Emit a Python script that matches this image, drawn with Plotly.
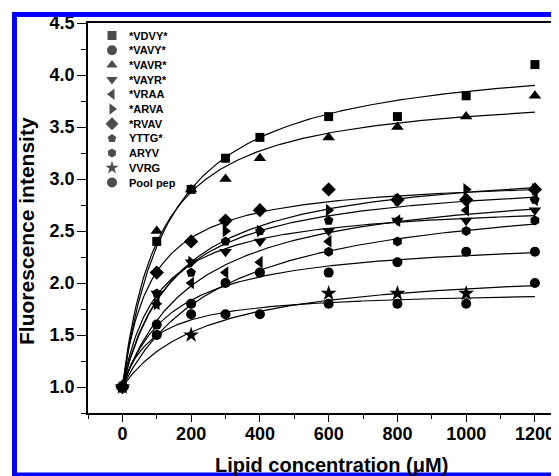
import numpy as np
import plotly.graph_objects as go

# ---------------- data ----------------
lipid_conc = [0, 100, 200, 300, 400, 600, 800, 1000, 1200]   # µM

series_names = ["*VDVY*", "*VAVY*", "*VAVR*", "*VAYR*", "*VRAA", "*ARVA",
                "*RVAV", "YTTG*", "ARYV", "VVRG", "Pool pep"]

VDVY = [1.0, 2.4, 2.9, 3.2, 3.4, 3.6, 3.6, 3.8, 4.1]
VAVY = [1.0, 1.6, 1.8, 2.0, 2.1, 2.1, 2.2, 2.3, 2.3]
VAVR = [1.0, 2.5, 2.9, 3.0, 3.2, 3.4, 3.5, 3.6, 3.8]
VAYR = [1.0, 1.9, 2.2, 2.3, 2.4, 2.5, 2.6, 2.6, 2.7]
VRAA = [1.0, 1.8, 2.0, 2.1, 2.2, 2.4, 2.6, 2.7, 2.8]
ARVA = [1.0, 1.8, 2.2, 2.5, 2.5, 2.7, 2.8, 2.9, 2.9]
RVAV = [1.0, 2.1, 2.4, 2.6, 2.7, 2.9, 2.8, 2.8, 2.9]
YTTG = [1.0, 1.9, 2.1, 2.4, 2.5, 2.6, 2.8, 2.8, 2.8]
ARYV = [1.0, 1.5, 1.8, 2.0, 2.1, 2.3, 2.4, 2.5, 2.6]
VVRG = [1.0, None, 1.5, None, None, 1.9, 1.9, 1.9, None]
POOL = [1.0, 1.5, 1.7, 1.7, 1.7, 1.8, 1.8, 1.8, 2.0]

series_values = [VDVY, VAVY, VAVR, VAYR, VRAA, ARVA, RVAV, YTTG, ARYV, VVRG, POOL]

x_tick_vals = [0, 200, 400, 600, 800, 1000, 1200]
y_tick_vals = [1.0, 1.5, 2.0, 2.5, 3.0, 3.5, 4.0, 4.5]

# ---------------- styles ----------------
symbols = ["square", "circle", "triangle-up", "triangle-down", "triangle-left",
           "triangle-right", "diamond", "pentagon", "hexagon", "star", "circle"]
sizes = [9, 10, 11, 11, 11, 11, 11, 10, 10, 12, 10]
FONT = "Liberation Sans, Arial, sans-serif"


def hyperbolic_fit(x, y):
    """One-site saturation fit y = y0 + B*x/(K+x) to the data (as in the original)."""
    x = np.asarray(x, float)
    y = np.array([np.nan if v is None else v for v in y], float)
    m = np.isfinite(y)
    x, y = x[m], y[m]
    y0 = y[x == 0][0]
    d = y - y0
    best = None
    for K in np.arange(5.0, 3000.0, 1.0):
        f = x / (K + x)
        B = np.dot(f, d) / np.dot(f, f)
        sse = np.sum((B * f - d) ** 2)
        if best is None or sse < best[0]:
            best = (sse, B, K)
    _, B, K = best
    xx = np.linspace(0, max(lipid_conc), 301)
    return xx, y0 + B * xx / (K + xx)


fig = go.Figure()

for name, vals, sym, sz in zip(series_names, series_values, symbols, sizes):
    fx, fy = hyperbolic_fit(lipid_conc, vals)
    fig.add_trace(go.Scatter(x=fx, y=fy, mode="lines",
                             line=dict(color="black", width=1.2),
                             showlegend=False, hoverinfo="skip"))
    fig.add_trace(go.Scatter(x=lipid_conc, y=vals, mode="markers", name=name,
                             marker=dict(symbol=sym, size=sz, color="black",
                                         line=dict(width=0)),
                             showlegend=False))

# ---------------- geometry (page has an 8px body margin) ----------------
OFF = 8
W, H = 559 - OFF, 476 - OFF
L, R, T, B = 88 - OFF, 0, 23 - OFF, 476 - 413
plot_w = W - L - R
plot_h = H - T - B


def fx_px(px):          # reference-window pixel -> figure pixel
    return px - OFF


def px2paper_x(px):
    return (fx_px(px) - L) / plot_w


def px2paper_y(py):
    return (H - B - fx_px(py)) / plot_h


# ---------------- hand-drawn legend (pixel overlay axes) ----------------
leg_marker_x = fx_px(112)
leg_text_x = fx_px(127)
leg_y0 = fx_px(35.5)
leg_dy = 14.7
leg_rows = [leg_y0 + i * leg_dy for i in range(len(series_names))]
leg_sizes = [9, 10, 10, 10, 10, 10, 10, 9, 9, 10, 10]

fig.add_trace(go.Scatter(x=[leg_marker_x] * len(series_names), y=leg_rows,
                         xaxis="x2", yaxis="y2", mode="markers",
                         marker=dict(symbol=symbols, size=leg_sizes, color="black",
                                     line=dict(width=0)),
                         showlegend=False, hoverinfo="skip"))

annotations = []
for name, yy in zip(series_names, leg_rows):
    annotations.append(dict(x=leg_text_x, y=yy, xref="x2", yref="y2", text=name,
                            showarrow=False, xanchor="left", yanchor="middle",
                            font=dict(family=FONT, size=11, color="black", weight="bold")))

# axis titles
annotations.append(dict(x=px2paper_x(26), y=px2paper_y(231), xref="paper", yref="paper",
                        text="Fluorescence intensity", textangle=-90, showarrow=False,
                        xanchor="center", yanchor="middle",
                        font=dict(family=FONT, size=21, color="black", weight="bold")))
annotations.append(dict(x=px2paper_x(331), y=px2paper_y(465), xref="paper", yref="paper",
                        text="Lipid concentration (\u03bcM)", showarrow=False,
                        xanchor="center", yanchor="middle",
                        font=dict(family=FONT, size=20, color="black", weight="bold")))

fig.update_layout(
    width=W, height=H,
    margin=dict(l=L, r=R, t=T, b=B, pad=0),
    paper_bgcolor="white", plot_bgcolor="white",
    showlegend=False,
    annotations=annotations,
    xaxis=dict(range=[-100, 1270], tickvals=x_tick_vals, ticks="outside",
               ticklen=7, tickwidth=1.2, tickcolor="black",
               minor=dict(dtick=100, tick0=0, ticks="outside", ticklen=4,
                          tickcolor="black", tickwidth=1.2),
               showline=True, linecolor="black", linewidth=1.5, mirror=True,
               showgrid=False, zeroline=False, ticklabelstandoff=-3,
               tickfont=dict(family=FONT, size=18, color="black", weight="bold")),
    yaxis=dict(range=[0.75, 4.5], tickvals=y_tick_vals, tickformat=".1f",
               ticks="outside", ticklen=9, tickwidth=1.2, tickcolor="black",
               minor=dict(dtick=0.25, tick0=0.75, ticks="outside", ticklen=5,
                          tickcolor="black", tickwidth=1.2),
               showline=True, linecolor="black", linewidth=1.5, mirror=False,
               showgrid=False, zeroline=False, ticklabelstandoff=-1,
               tickfont=dict(family=FONT, size=18, color="black", weight="bold")),
    xaxis2=dict(overlaying="x", range=[L, W - R], visible=False, fixedrange=True),
    yaxis2=dict(overlaying="y", range=[H - B, T], visible=False, fixedrange=True),
    shapes=[dict(type="rect", xref="paper", yref="paper",
                 x0=px2paper_x(14.5), x1=px2paper_x(600),
                 y0=px2paper_y(475), y1=px2paper_y(14.5),
                 line=dict(color="#0000ff", width=5), layer="above")],
)

fig.write_html("out.html")
